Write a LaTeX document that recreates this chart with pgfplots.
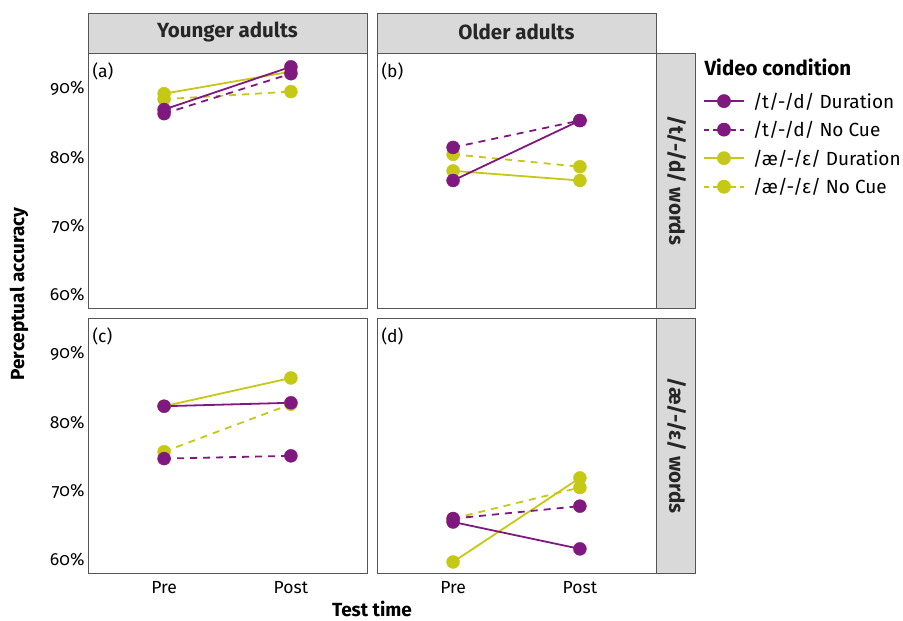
\documentclass[border=0pt]{standalone}
\usepackage{pgfplots}
\pgfplotsset{compat=1.18}
\usepackage{fontspec}
\setmainfont{Fira Sans}[Numbers=OldStyle]
\definecolor{pur}{HTML}{80197F}
\definecolor{yel}{HTML}{C5C815}
\definecolor{stripc}{HTML}{D9D9D9}
\definecolor{framec}{HTML}{555555}
\newcommand{\fs}{\fontsize{17.5}{20}\selectfont}
\newcommand{\fl}{\fontsize{19}{22}\selectfont}
\newcommand{\fb}{\fontsize{20.5}{23}\selectfont\bfseries}
\newcommand{\ft}{\fontsize{19}{22}\selectfont\bfseries}
\pgfplotsset{
  panel/.style={scale only axis, width=279pt, height=255pt,
    xmin=0.4, xmax=2.6, ymin=58.1, ymax=95.1,
    xtick={1,2}, xticklabels={Pre,Post},
    ytick={60,70,80,90}, yticklabels={60\%,70\%,80\%,90\%},
    major tick length=0pt,
    axis line style={framec, line width=0.9pt},
    ticklabel style={font=\fs},
    xticklabel style={yshift=-5pt},
    /pgf/number format/assume math mode=true,
    clip=false},
  ln/.style={line width=1.8pt},
  mk/.style={only marks, mark=*, mark size=6.5pt, forget plot},
  dsh/.style={dash pattern=on 7pt off 6pt},
}
\tikzset{plab/.style={font=\fs, anchor=north west}}
\begin{document}
\begin{tikzpicture}[x=1pt,y=1pt]
\path[use as bounding box] (0,0) rectangle (903,-621);
% strips
\draw[fill=stripc, draw=framec, line width=0.9pt] (88,-13) rectangle (367,-53);
\draw[fill=stripc, draw=framec, line width=0.9pt] (377,-13) rectangle (656,-53);
\draw[fill=stripc, draw=framec, line width=0.9pt] (656,-53) rectangle (695,-308);
\draw[fill=stripc, draw=framec, line width=0.9pt] (656,-318) rectangle (695,-573);
\node[font=\fb, text=black!85] at (227.5,-32) {Younger adults};
\node[font=\fb, text=black!85] at (516.5,-32) {Older adults};
\node[font=\fb, text=black!85, rotate=-90] at (676.5,-180.5) {/t/-/d/ words};
\node[font=\fb, text=black!85, rotate=-90] at (676.5,-445.5) {/æ/-/ɛ/ words};
\node[font=\ft, rotate=90] at (19,-294) {Perceptual accuracy};
\node[font=\ft] at (372,-609) {Test time};
\node[font=\fb, anchor=west] at (701,-67) {Video condition};

% panel a
\begin{axis}[panel, at={(88pt,-53pt)}, anchor=north west, xticklabels={}]
\addplot[yel, ln, forget plot] coordinates {(1,89.2) (2,92.4)};
\addplot[yel, ln, dsh, forget plot] coordinates {(1,88.4) (2,89.5)};
\addplot[pur, ln, forget plot] coordinates {(1,86.9) (2,93.1)};
\addplot[pur, ln, dsh, forget plot] coordinates {(1,86.3) (2,92.1)};
\addplot[yel, mk] coordinates {(1,89.2) (2,92.4) (1,88.4) (2,89.5)};
\addplot[pur, mk] coordinates {(1,86.9) (2,93.1) (1,86.3) (2,92.1)};
\node[plab] at (rel axis cs:0,1) [xshift=1pt, yshift=-6pt] {(a)};
\end{axis}

% panel b
\begin{axis}[panel, at={(377pt,-53pt)}, anchor=north west, xticklabels={}, yticklabels={},
  legend style={at={(rel axis cs:1.168,0.853)}, anchor=north west, draw=none, fill=none,
    font=\fl, row sep=7.7pt, inner sep=0pt, cells={anchor=west},
    /tikz/every odd column/.style={column sep=6pt}},
  legend image code/.code={\draw[mark repeat=2,mark phase=2,#1] plot coordinates {(0pt,0pt) (20pt,0pt) (40pt,0pt)};}]
\addlegendimage{pur, line width=1.8pt, mark=*, mark size=6pt, mark options={solid}}
\addlegendentry{/t/-/d/ Duration}
\addlegendimage{pur, line width=1.8pt, dash pattern=on 5pt off 4pt, mark=*, mark size=6pt, mark options={solid}}
\addlegendentry{/t/-/d/ No Cue}
\addlegendimage{yel, line width=1.8pt, mark=*, mark size=6pt, mark options={solid}}
\addlegendentry{/æ/-/ɛ/ Duration}
\addlegendimage{yel, line width=1.8pt, dash pattern=on 5pt off 4pt, mark=*, mark size=6pt, mark options={solid}}
\addlegendentry{/æ/-/ɛ/ No Cue}
\addplot[yel, ln, forget plot] coordinates {(1,78.0) (2,76.6)};
\addplot[yel, ln, dsh, forget plot] coordinates {(1,80.4) (2,78.6)};
\addplot[pur, ln, forget plot] coordinates {(1,76.6) (2,85.3)};
\addplot[pur, ln, dsh, forget plot] coordinates {(1,81.4) (2,85.3)};
\addplot[yel, mk] coordinates {(1,78.0) (2,76.6) (1,80.4) (2,78.6)};
\addplot[pur, mk] coordinates {(1,76.6) (2,85.3) (1,81.4) (2,85.3)};
\node[plab] at (rel axis cs:0,1) [xshift=1pt, yshift=-6pt] {(b)};
\end{axis}

% panel c
\begin{axis}[panel, at={(88pt,-318pt)}, anchor=north west]
\addplot[yel, ln, forget plot] coordinates {(1,82.3) (2,86.4)};
\addplot[yel, ln, dsh, forget plot] coordinates {(1,75.7) (2,82.6)};
\addplot[pur, ln, forget plot] coordinates {(1,82.3) (2,82.8)};
\addplot[pur, ln, dsh, forget plot] coordinates {(1,74.7) (2,75.1)};
\addplot[yel, mk] coordinates {(1,82.3) (2,86.4) (1,75.7) (2,82.6)};
\addplot[pur, mk] coordinates {(1,82.3) (2,82.8) (1,74.7) (2,75.1)};
\node[plab] at (rel axis cs:0,1) [xshift=1pt, yshift=-6pt] {(c)};
\end{axis}

% panel d
\begin{axis}[panel, at={(377pt,-318pt)}, anchor=north west, yticklabels={}]
\addplot[yel, ln, forget plot] coordinates {(1,59.7) (2,71.9)};
\addplot[yel, ln, dsh, forget plot] coordinates {(1,66.0) (2,70.5)};
\addplot[pur, ln, forget plot] coordinates {(1,65.5) (2,61.6)};
\addplot[pur, ln, dsh, forget plot] coordinates {(1,66.0) (2,67.8)};
\addplot[yel, mk] coordinates {(1,59.7) (2,71.9) (1,66.0) (2,70.5)};
\addplot[pur, mk] coordinates {(1,65.5) (2,61.6) (1,66.0) (2,67.8)};
\node[plab] at (rel axis cs:0,1) [xshift=1pt, yshift=-6pt] {(d)};
\end{axis}
\end{tikzpicture}
\end{document}
